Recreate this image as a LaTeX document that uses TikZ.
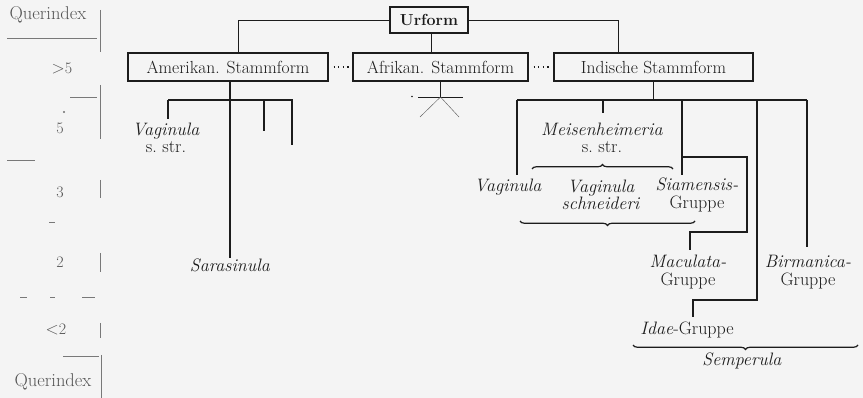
\documentclass[tikz,border=0pt]{standalone}
\usepackage{fontspec}
\usetikzlibrary{decorations.pathreplacing}
\definecolor{paper}{RGB}{244,244,244}
\definecolor{ink}{RGB}{28,28,28}
\definecolor{axisink}{RGB}{120,120,120}
\definecolor{axistext}{RGB}{85,85,85}
\begin{document}
\begin{tikzpicture}[x=1pt,y=-1pt,
  stammbox/.style={draw=ink, line width=1.3pt, inner sep=0pt, minimum height=28pt,
    text=ink, font=\fontsize{17.5}{20}\selectfont\addfontfeature{LetterSpace=1.5}},
  urbox/.style={draw=ink, line width=1.5pt, inner sep=0pt, minimum width=78pt, minimum height=26pt,
    text=ink, font=\fontsize{16}{18}\selectfont\bfseries\addfontfeature{LetterSpace=10}},
  lbl/.style={inner sep=0pt, align=center, text=ink, font=\fontsize{18}{17.5}\selectfont},
  axlbl/.style={inner sep=0pt, text=axistext, font=\fontsize{16}{18}\selectfont\addfontfeature{Numbers=OldStyle}},
  qlbl/.style={inner sep=0pt, text=axistext, font=\fontsize{18.5}{20}\selectfont},
  tree/.style={draw=ink, line width=1.6pt},
  link/.style={draw=ink, line width=0.9pt},
  hair/.style={draw=ink!70, line width=0.45pt},
  axisline/.style={draw=axisink, line width=0.6pt},
  dots/.style={draw=ink, line width=1.1pt, dash pattern=on 1.2pt off 3.4pt},
  brc/.style={draw=ink, line width=1.2pt, decorate, decoration={brace, amplitude=4.5pt}},
  brcdown/.style={brc, decoration={brace, amplitude=4.5pt, mirror}},
]
\fill[paper] (0,0) rectangle (863,398);
\useasboundingbox (0,0) rectangle (863,398);

% ---- scale of the cross index on the left
\node[qlbl] (qtop) at (48,15) {Querindex};
\node[axlbl] (gt5) at (62,68) {$>$5};
\node[axlbl] (v5) at (60,128) {5};
\node[axlbl] (v3) at (60,192) {3};
\node[axlbl] (v2) at (60,262) {2};
\node[axlbl] (lt2) at (56,329) {$<$2};
\node[qlbl] (qbot) at (53,382) {Querindex};

\coordinate (a1) at (100,10);  \coordinate (a2) at (100,52);
\coordinate (a3) at (100,85);  \coordinate (a4) at (100,139);
\coordinate (a5) at (100,180); \coordinate (a6) at (100,198);
\coordinate (a7) at (100,253); \coordinate (a8) at (100,272);
\coordinate (a9) at (100,323); \coordinate (a10) at (100,338);
\coordinate (a11) at (101,355); \coordinate (a12) at (101,398);
\draw[axisline] (a1) -- (a2);
\draw[axisline] (a3) -- (a4);
\draw[axisline] (a5) -- (a6);
\draw[axisline] (a7) -- (a8);
\draw[axisline] (a9) -- (a10);
\draw[axisline] (a11) -- (a12);
\draw[axisline] (7,38) -- (97,38);
\draw[axisline] (70,97) -- (97,97);
\fill[axisline, fill=axisink] (64,112) circle (0.7);
\draw[axisline] (7,160) -- (35,160);
\draw[axisline] (49,222) -- (55,222);
\draw[axisline] (20,297) -- (27,297);
\draw[axisline] (50,297) -- (55,297);
\draw[axisline] (82,297) -- (95,297);
\draw[axisline] (63,356) -- (99,356);

% ---- root and the three stem forms
\node[urbox] (urf) at (429,20) {Urform};
\node[stammbox, minimum width=200pt] (am) at (228,67) {Amerikan. Stammform};
\node[stammbox, minimum width=175pt] (af) at (440.5,67) {Afrikan. Stammform};
\node[stammbox, minimum width=199pt] (ind) at (653.5,67) {Indische Stammform};

\draw[link] (urf.west) -| ([xshift=10pt]am.north);
\draw[link] (urf.east) -| ([xshift=-35.5pt]ind.north);
\draw[link] ([xshift=2pt]urf.south) -- ([xshift=2pt]urf.south |- af.north);
\draw[dots] ([xshift=5pt]am.east) -- ([xshift=-3pt]af.west);
\draw[dots] ([xshift=5pt]af.east) -- ([xshift=-3pt]ind.west);

% ---- African stem: a stub that fans out
\coordinate (afJ) at (440.5,97);
\coordinate (afL) at (418,97); \coordinate (afR) at (463,97);
\coordinate (afDL) at (420,117); \coordinate (afDR) at (459,117);
\draw[tree, line width=1.3pt] (af.south) -- (afJ);
\draw[link] (afL) -- (afR);
\fill[ink] (412,96.5) circle (0.8);
\draw[hair] (afJ) -- (afDL);
\draw[hair] (afJ) -- (afDR);

% ---- American stem
\node[lbl] (vagA) at (166,138) {\textit{Vaginula}\\s.\ str.};
\node[lbl] (sar) at (230,265) {\textit{Sarasinula}};
\coordinate (amL) at (168,100); \coordinate (amR) at (293,100);
\coordinate (amT1) at (264,100); \coordinate (amT1e) at (264,131);
\coordinate (amT2) at (292,100); \coordinate (amT2e) at (292,145);
\draw[tree] ([xshift=2pt]am.south) -- ([xshift=2pt]am.south |- sar.north);
\draw[tree] (amL) -- (amR);
\draw[tree, shorten >=4pt] (amL) -- (amL |- vagA.north);
\draw[tree] (amT1) -- (amT1e);
\draw[tree] (amT2) -- (amT2e);

% ---- Indian stem
\node[lbl] (meis) at (602,138) {\textit{Meisenheimeria}\\s.\ str.};
\node[lbl] (vagB) at (508,187) {\textit{Vaginula}};
\node[lbl] (schn) at (601,195) {\textit{Vaginula}\\\textit{schneideri}};
\node[lbl] (siam) at (697,195) {\textit{Siamensis-}\\Gruppe};
\node[lbl] (mac) at (688,272) {\textit{Maculata-}\\Gruppe};
\node[lbl] (birm) at (808,272) {\textit{Birmanica-}\\Gruppe};
\node[lbl] (idae) at (687,330) {\textit{Idae}-Gruppe};
\node[lbl] (semp) at (742,361) {\textit{Semperula}};

\coordinate (inL) at (517,100); \coordinate (inR) at (807,100);
\coordinate (inM) at (603,100); \coordinate (inMe) at (603,113);
\coordinate (inS) at (682,100);
\coordinate (inI) at (757,100); \coordinate (idK) at (757,300);
\coordinate (sb1) at (682,157); \coordinate (sb2) at (747,232);

\draw[tree] (ind.south) -- (ind.south |- inL);
\draw[tree] (inL) -- (inR);
\draw[tree, shorten >=4pt] (inL) -- (inL |- vagB.north);
\draw[tree] (inM) -- (inMe);
\draw[tree, shorten >=3pt] (inS) -- (inS |- siam.north);
\draw[tree, shorten >=5pt] (sb1) -| (sb2) -| ([xshift=2pt]mac.north);
\draw[tree, shorten >=5pt] (inI) -- (idK) -| ([xshift=6pt]idae.north);
\draw[tree, shorten >=8pt] (inR) -- (inR |- birm.north);

% ---- group braces
\draw[brc] (532,169) -- (673,169);
\draw[brcdown] (520,221) -- (695,221);
\draw[brcdown] (633,345) -- (858,345);
\end{tikzpicture}
\end{document}
